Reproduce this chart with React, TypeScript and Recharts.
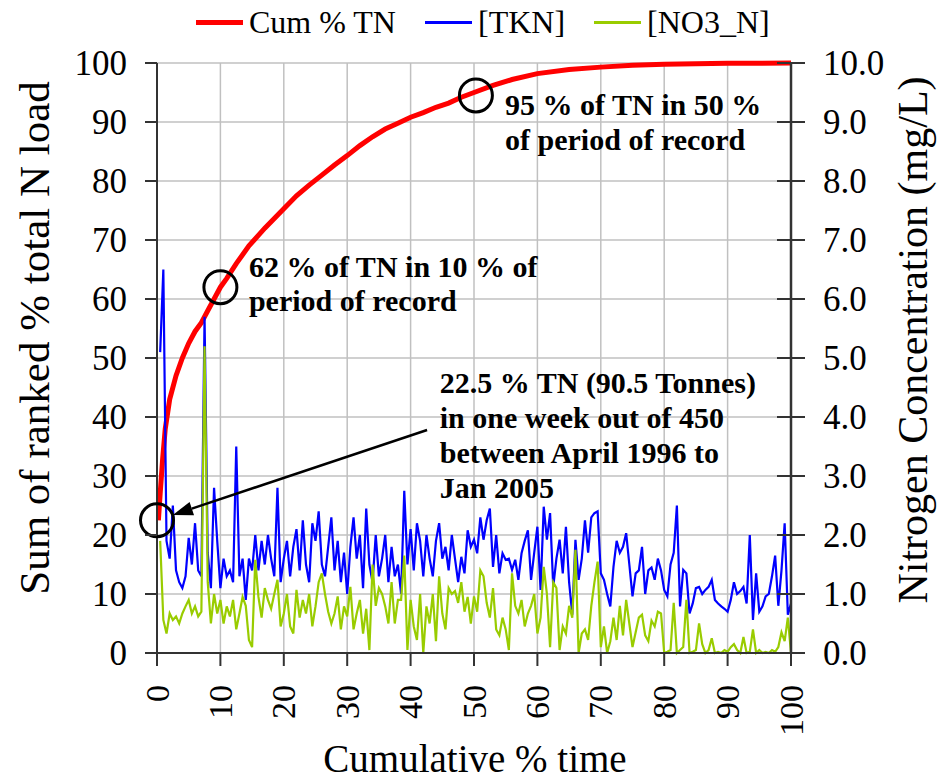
import React from "react";
import { LineChart, Line, XAxis, YAxis, CartesianGrid, ReferenceDot, ReferenceLine, Customized } from "recharts";

const SERIF = "Liberation Serif, DejaVu Serif, serif";
const AXIS = "#333333";

const timeTicks = [0, 10, 20, 30, 40, 50, 60, 70, 80, 90, 100];
const loadTicks = [0, 10, 20, 30, 40, 50, 60, 70, 80, 90, 100];
const concTicks = [0, 1, 2, 3, 4, 5, 6, 7, 8, 9, 10];

// cumulative % of total N load vs cumulative % time
const cumTime = [0.22, 0.5, 0.9, 1.3, 2, 3, 4, 5, 6, 7, 8, 9, 10, 11, 12.5, 14.5, 17, 20, 22, 24, 26, 28, 30, 32, 34, 36, 38, 40, 42, 44, 46, 48, 50, 53, 56, 60, 65, 70, 75, 80, 90, 100];
const cumLoad = [22.5, 27, 33, 38, 43, 47, 50, 52.5, 54.5, 56, 58, 60, 62, 63.5, 66, 69, 72, 75.3, 77.5, 79.3, 81, 82.7, 84.3, 86, 87.5, 88.8, 89.8, 90.8, 91.6, 92.5, 93.2, 94.2, 95, 96.2, 97.2, 98.2, 98.9, 99.3, 99.6, 99.8, 99.95, 100];

// weekly concentrations (mg/L), ranked by load
const tkn = [
  5.1, 6.5, 1.9, 1.6, 2.5, 1.4, 1.2, 1.1, 1.3, 1.95,
  1.5, 2.2, 1.4, 1.3, 5.7, 1.7, 1.1, 2.8, 1.9, 1.1,
  1.6, 1.3, 1.4, 1.2, 3.5, 1.3, 1.6, 0.9, 1.6, 1.4,
  2.0, 1.4, 1.9, 1.5, 2.0, 1.6, 1.3, 2.8, 1.2, 1.6,
  1.9, 1.3, 1.8, 2.1, 1.4, 2.25, 1.5, 1.2, 2.2, 1.9,
  2.4, 1.5, 1.3, 1.8, 2.3, 1.4, 1.9, 1.2, 1.7, 1.0,
  1.8, 2.3, 1.6, 2.0, 1.1, 2.45, 1.5, 1.2, 2.0, 1.3,
  1.6, 2.0, 1.2, 1.8, 1.3, 1.5, 1.0, 2.75, 1.5, 2.1,
  1.4, 2.2, 1.9, 1.3, 2.0, 1.6, 1.3, 1.9, 2.2, 1.6,
  1.8, 1.4, 2.0, 1.6, 1.2, 1.63, 1.35, 2.08, 1.8, 1.92,
  1.69, 2.3, 1.92, 2.25, 2.45, 1.46, 2.0, 1.35, 1.69, 1.58,
  1.6, 1.41, 1.58, 1.24, 1.69, 1.9, 2.08, 1.24, 1.7, 2.14,
  1.07, 2.48, 1.92, 2.37, 1.12, 1.6, 1.92, 1.35, 2.14, 1.2,
  0.65, 1.92, 1.24, 1.6, 2.25, 1.7, 2.3, 2.37, 2.4, 1.35,
  1.24, 1.0, 0.79, 1.46, 1.9, 1.7, 1.8, 2.03, 1.5, 0.96,
  1.35, 1.4, 1.8, 1.0, 1.4, 1.45, 1.24, 1.6, 1.4, 1.07,
  0.96, 1.5, 1.7, 2.5, 0.79, 1.41, 1.35, 0.67, 0.84, 1.1,
  1.12, 1.0, 1.07, 1.12, 1.24, 0.9, 0.84, 0.79, 0.75, 0.7,
  0.9, 1.2, 1.0, 1.05, 1.12, 0.84, 2.0, 0.56, 1.35, 0.7,
  0.79, 0.96, 1.0, 1.3, 1.65, 0.8, 1.4, 2.2, 0.65, 0.84,
];

const no3 = [
  1.9, 0.56, 0.33, 0.67, 0.56, 0.62, 0.5, 0.67, 0.79, 0.9,
  0.67, 0.79, 0.62, 0.7, 5.2, 1.2, 0.5, 1.0, 0.67, 0.9,
  0.5, 0.79, 0.62, 0.9, 0.4, 0.67, 0.95, 0.8, 0.22, 0.1,
  1.58, 0.95, 0.6, 1.1, 0.9, 0.75, 1.0, 1.24, 0.45, 0.67,
  1.0, 0.45, 0.33, 1.07, 0.6, 0.9, 0.67, 1.0, 0.45, 0.79,
  1.2, 1.35, 1.0, 0.7, 0.5, 0.67, 0.96, 0.4, 0.79, 0.62,
  1.12, 0.4, 0.67, 0.9, 0.33, 0.75, 0.05, 1.5, 0.8, 1.1,
  1.0, 0.79, 0.5, 1.2, 0.5, 0.9, 0.9, 1.65, 0.05, 0.9,
  0.45, 0.22, 1.0, 0.0, 0.79, 0.5, 1.0, 0.2, 1.3, 0.67,
  0.4, 1.1, 1.0, 1.05, 0.85, 1.2, 0.7, 0.95, 0.5, 0.96,
  0.7, 1.4, 1.3, 0.85, 0.6, 1.1, 0.4, 0.3, 0.6, 0.4,
  0.05, 1.35, 0.8, 0.67, 0.9, 0.45, 0.67, 0.8, 1.0, 0.33,
  0.6, 1.46, 1.0, 0.1, 1.2, 1.1, 0.05, 0.45, 0.33, 0.8,
  0.6, 1.75, 0.0, 0.33, 0.4, 0.22, 0.8, 1.2, 1.55, 0.1,
  0.45, 0.0, 0.2, 0.6, 0.22, 0.8, 0.3, 0.9, 0.5, 0.1,
  0.35, 0.6, 0.65, 0.3, 0.2, 0.55, 0.45, 0.7, 0.67, 0.0,
  0.02, 0.05, 0.85, 0.0, 0.05, 0.1, 0.9, 0.0, 0.02, 0.05,
  0.5, 0.15, 0.0, 0.05, 0.25, 0.0, 0.02, 0.0, 0.05, 0.02,
  0.1, 0.15, 0.05, 0.0, 0.27, 0.0, 0.02, 0.4, 0.0, 0.05,
  0.0, 0.02, 0.0, 0.05, 0.02, 0.1, 0.35, 0.2, 0.6, 0.0,
];

const legendItems = [
  { label: "Cum % TN", color: "#ff0000", width: 5 },
  { label: "[TKN]", color: "#0000ff", width: 2.5 },
  { label: "[NO3_N]", color: "#99cc00", width: 2.5 },
];

const note62 = ["62 % of TN in 10 % of", "period of record"];
const note95 = ["95 % of TN in 50 %", "of period of record"];
const noteWeek = ["22.5 % TN (90.5 Tonnes)", "in one week out of 450", "between April 1996 to", "Jan 2005"];

const cumData = cumTime.map((t, i) => ({ t, cum: cumLoad[i] }));
const concData = tkn.map((v, i) => ({ t: ((i + 1) * 100) / tkn.length, tkn: v, no3: no3[i] }));

function LeftTick({ x, y, payload }: any) {
  return (
    <g>
      <line x1={x - 12} y1={y} x2={x} y2={y} stroke={AXIS} strokeWidth={2} />
      <text x={x - 30} y={y} textAnchor="end" dominantBaseline="central" fontFamily={SERIF} fontSize={35} fill="#000">
        {payload.value}
      </text>
    </g>
  );
}

function RightTick({ x, y, payload }: any) {
  return (
    <g>
      <line x1={x - 14} y1={y} x2={x + 14} y2={y} stroke={AXIS} strokeWidth={2} />
      <text x={x + 32} y={y} textAnchor="start" dominantBaseline="central" fontFamily={SERIF} fontSize={35} fill="#000">
        {Number(payload.value).toFixed(1)}
      </text>
    </g>
  );
}

function BottomTick({ x, y, payload }: any) {
  return (
    <g>
      <line x1={x} y1={y} x2={x} y2={y + 13} stroke={AXIS} strokeWidth={2} />
      <text
        x={x}
        y={y + 32}
        transform={`rotate(-90 ${x} ${y + 32})`}
        textAnchor="end"
        dominantBaseline="central"
        fontFamily={SERIF}
        fontSize={34}
        fill="#000"
      >
        {payload.value}
      </text>
    </g>
  );
}

function Arrow(p: any) {
  const { x1, y1, x2, y2 } = p;
  const a = Math.atan2(y2 - y1, x2 - x1);
  const len = 20;
  const half = 7;
  const bx = x2 - len * Math.cos(a);
  const by = y2 - len * Math.sin(a);
  const pts = [
    [x2, y2],
    [bx + half * Math.sin(a), by - half * Math.cos(a)],
    [bx - half * Math.sin(a), by + half * Math.cos(a)],
  ]
    .map((q) => q.join(","))
    .join(" ");
  return (
    <g>
      <line x1={x1} y1={y1} x2={bx} y2={by} stroke="#000" strokeWidth={2.5} />
      <polygon points={pts} fill="#000" />
    </g>
  );
}

function note(lines: string[], gap: number) {
  return (p: any) => (
    <text x={p.cx} y={p.cy} fontFamily={SERIF} fontWeight="bold" fontSize={30} fill="#000">
      {lines.map((l, i) => (
        <tspan key={i} x={p.cx} y={p.cy + i * gap}>
          {l}
        </tspan>
      ))}
    </text>
  );
}

function Titles() {
  return (
    <g fontFamily={SERIF} fill="#000">
      <text x={475} y={772} textAnchor="middle" fontSize={39}>
        Cumulative % time
      </text>
      <text x={34} y={338} transform="rotate(-90 34 338)" textAnchor="middle" dominantBaseline="central" fontSize={43}>
        Sum of ranked % total N load
      </text>
      <text x={913} y={340} transform="rotate(-90 913 340)" textAnchor="middle" dominantBaseline="central" fontSize={42}>
        Nitrogen Concentration (mg/L)
      </text>
    </g>
  );
}

export default function App() {
  return (
    <div style={{ position: "absolute", left: 0, top: 0, width: 939, height: 782, background: "#fff" }}>
      <div
        style={{
          position: "absolute",
          left: 196,
          top: 4,
          display: "flex",
          alignItems: "center",
          fontFamily: SERIF,
          fontSize: 32,
          whiteSpace: "nowrap",
        }}
      >
        {legendItems.map((it) => (
          <div key={it.label} style={{ display: "flex", alignItems: "center", marginRight: 29 }}>
            <span style={{ display: "inline-block", width: 47, height: it.width, background: it.color, marginRight: 6 }} />
            <span>{it.label}</span>
          </div>
        ))}
      </div>
      <LineChart width={939} height={782} margin={{ top: 63, right: 0, bottom: 0, left: 0 }}>
        <CartesianGrid yAxisId="left" stroke="#c0c0c0" strokeWidth={1.5} />
        <XAxis
          dataKey="t"
          type="number"
          domain={[0, 100]}
          ticks={timeTicks}
          height={129}
          tickSize={0}
          tickMargin={0}
          tickLine={false}
          tick={BottomTick}
          axisLine={{ stroke: AXIS, strokeWidth: 2 }}
          allowDataOverflow
        />
        <YAxis
          yAxisId="left"
          type="number"
          domain={[0, 100]}
          ticks={loadTicks}
          width={157}
          tickSize={0}
          tickMargin={0}
          tickLine={false}
          tick={LeftTick}
          axisLine={{ stroke: AXIS, strokeWidth: 2 }}
        />
        <YAxis
          yAxisId="right"
          orientation="right"
          type="number"
          domain={[0, 10]}
          ticks={concTicks}
          width={148}
          tickSize={0}
          tickMargin={0}
          tickLine={false}
          tick={RightTick}
          axisLine={{ stroke: AXIS, strokeWidth: 2.5 }}
        />
        <Line
          yAxisId="left"
          data={cumData}
          dataKey="cum"
          stroke="#ff0000"
          strokeWidth={5}
          dot={false}
          isAnimationActive={false}
          type="linear"
        />
        <Line
          yAxisId="right"
          data={concData}
          dataKey="tkn"
          stroke="#0000ff"
          strokeWidth={2.2}
          dot={false}
          isAnimationActive={false}
          type="linear"
        />
        <Line
          yAxisId="right"
          data={concData}
          dataKey="no3"
          stroke="#99cc00"
          strokeWidth={2.2}
          dot={false}
          isAnimationActive={false}
          type="linear"
        />
        <ReferenceLine yAxisId="left" segment={[{ x: 42.6, y: 37.8 }, { x: 2.5, y: 23.4 }]} shape={Arrow} />
        <ReferenceDot yAxisId="left" x={0} y={22.5} r={16.5} fill="none" stroke="#000" strokeWidth={3} ifOverflow="visible" />
        <ReferenceDot yAxisId="left" x={10} y={62} r={16.5} fill="none" stroke="#000" strokeWidth={3} />
        <ReferenceDot yAxisId="left" x={50.3} y={94.5} r={16.5} fill="none" stroke="#000" strokeWidth={3} />
        <ReferenceDot yAxisId="left" x={14.5} y={63.7} r={0} shape={note(note62, 34)} />
        <ReferenceDot yAxisId="left" x={54.9} y={91.2} r={0} shape={note(note95, 35)} />
        <ReferenceDot yAxisId="left" x={44.6} y={44.1} r={0} shape={note(noteWeek, 35)} />
        <Customized component={Titles} />
      </LineChart>
    </div>
  );
}
